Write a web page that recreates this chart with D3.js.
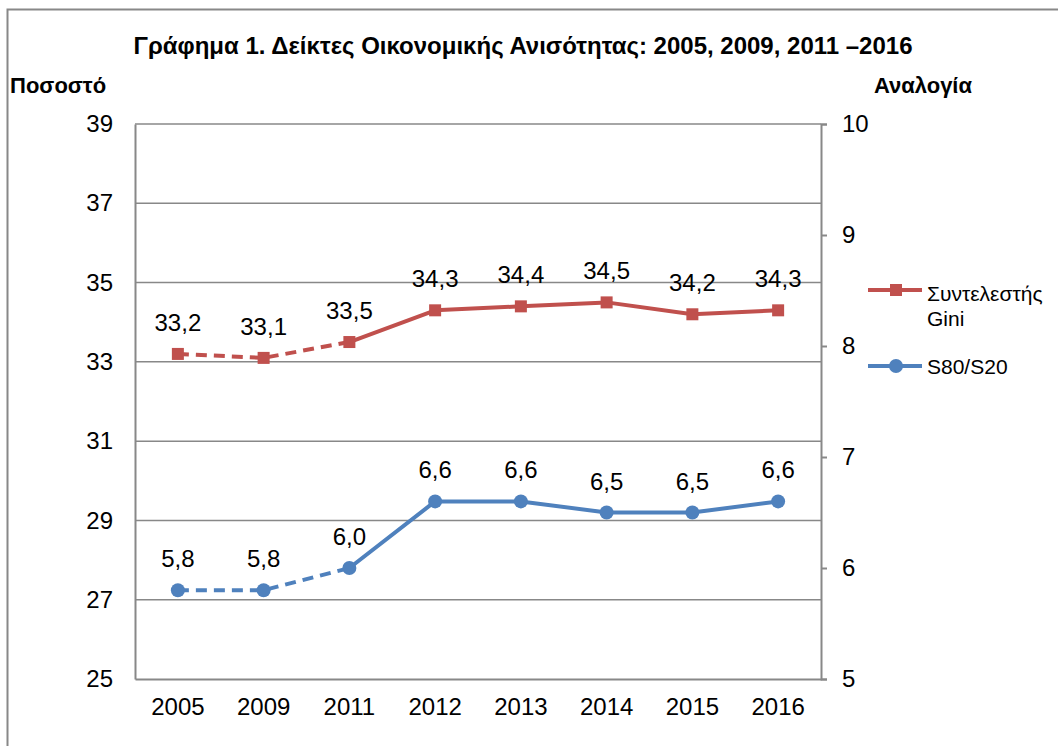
<!DOCTYPE html>
<html>
<head>
<meta charset="utf-8">
<script src="https://cdn.jsdelivr.net/npm/d3@7"></script>
<style>
  body { margin: 0; background: #fff; }
  text { font-family: "Liberation Sans", Arial, sans-serif; fill: #000; }
</style>
</head>
<body>
<div id="chart"></div>
<script>
// data
const years = ["2005", "2009", "2011", "2012", "2013", "2014", "2015", "2016"];
const gini = [33.2, 33.1, 33.5, 34.3, 34.4, 34.5, 34.2, 34.3];
const s80s20 = [5.8, 5.8, 6.0, 6.6, 6.6, 6.5, 6.5, 6.6];
const leftTicks = [25, 27, 29, 31, 33, 35, 37, 39];
const rightTicks = [5, 6, 7, 8, 9, 10];
const dashedUntil = 2; // index of 2011, lines are dashed up to here

const W = 1058, H = 746;
const margin = { left: 135, right: 237, top: 124, bottom: 67 };
const width = W - margin.left - margin.right;
const height = H - margin.top - margin.bottom;

const red = "#C0504D", blue = "#4F81BD", grey = "#888";
const fmt = v => d3.format(".1f")(v).replace(".", ",");
const fontSize = 24;

const svg = d3.select("#chart").append("svg")
  .attr("width", W).attr("height", H);

// outer frame (only top and left visible in the picture)
svg.append("rect")
  .attr("x", 7.5).attr("y", 9.5)
  .attr("width", W + 20).attr("height", H + 20)
  .attr("fill", "none").attr("stroke", grey).attr("stroke-width", 2);

svg.append("text")
  .attr("x", 523).attr("y", 54)
  .attr("text-anchor", "middle")
  .attr("font-size", 24).attr("font-weight", "bold")
  .text("Γράφημα 1. Δείκτες Οικονομικής Ανισότητας: 2005, 2009, 2011 –2016");

svg.append("text")
  .attr("x", 10).attr("y", 93)
  .attr("font-size", 22).attr("font-weight", "bold")
  .text("Ποσοστό");

svg.append("text")
  .attr("x", 972).attr("y", 93)
  .attr("text-anchor", "end")
  .attr("font-size", 22).attr("font-weight", "bold")
  .text("Αναλογία");

const g = svg.append("g")
  .attr("transform", "translate(" + [margin.left, margin.top] + ")");

const x = d3.scaleBand().domain(years).range([0, width]);
const yL = d3.scaleLinear().domain([25, 39]).range([height, 0]);
const yR = d3.scaleLinear().domain([5, 10]).range([height, 0]);
const cx = d => x(d) + x.bandwidth() / 2;

// gridlines
g.append("g")
  .selectAll("line")
  .data(leftTicks.slice(1))
  .join("line")
  .attr("x1", 0).attr("x2", width)
  .attr("y1", d => yL(d)).attr("y2", d => yL(d))
  .attr("stroke", grey).attr("stroke-width", 1.5);

function styleText(sel) {
  sel.selectAll("text")
    .attr("font-size", fontSize)
    .attr("fill", "#000")
    .style("font-family", "Liberation Sans, Arial, sans-serif");
}

// left axis
const yAxisL = d3.axisLeft(yL).tickValues(leftTicks).tickSize(0).tickPadding(22);
const gl = g.append("g").call(yAxisL);
gl.select(".domain").attr("stroke", grey).attr("stroke-width", 2);
styleText(gl);

// right axis
const yAxisR = d3.axisRight(yR).tickValues(rightTicks).tickFormat(d3.format("d"))
  .tickSize(6).tickPadding(15);
const gr = g.append("g").attr("transform", "translate(" + [width, 0] + ")").call(yAxisR);
gr.select(".domain").attr("stroke", grey).attr("stroke-width", 2);
gr.selectAll(".tick line").attr("stroke", grey).attr("stroke-width", 2);
styleText(gr);

// bottom axis
const xAxis = d3.axisBottom(x).tickSize(0).tickPadding(19);
const gx = g.append("g").attr("transform", "translate(" + [0, height] + ")").call(xAxis);
gx.select(".domain").attr("stroke", grey).attr("stroke-width", 2);
styleText(gx);

function drawSeries(values, yScale, color, marker) {
  const pts = values.map((v, i) => [cx(years[i]), yScale(v)]);
  const line = d3.line();
  g.append("path")
    .attr("d", line(pts.slice(0, dashedUntil + 1)))
    .attr("fill", "none").attr("stroke", color)
    .attr("stroke-width", 4).attr("stroke-dasharray", "11,7");
  g.append("path")
    .attr("d", line(pts.slice(dashedUntil)))
    .attr("fill", "none").attr("stroke", color)
    .attr("stroke-width", 4).attr("stroke-linejoin", "round");
  if (marker === "square") {
    g.append("g").selectAll("rect").data(pts).join("rect")
      .attr("x", d => d[0] - 6).attr("y", d => d[1] - 6)
      .attr("width", 12).attr("height", 12).attr("fill", color);
  } else {
    g.append("g").selectAll("circle").data(pts).join("circle")
      .attr("cx", d => d[0]).attr("cy", d => d[1])
      .attr("r", 7).attr("fill", color);
  }
  g.append("g").selectAll("text").data(values).join("text")
    .attr("x", (d, i) => cx(years[i]))
    .attr("y", d => yScale(d) - 23)
    .attr("text-anchor", "middle")
    .attr("font-size", fontSize)
    .text(d => fmt(d));
}

drawSeries(gini, yL, red, "square");
drawSeries(s80s20, yR, blue, "circle");

// legend
const leg = svg.append("g");
leg.append("line").attr("x1", 868).attr("x2", 922).attr("y1", 290).attr("y2", 290)
  .attr("stroke", red).attr("stroke-width", 4);
leg.append("rect").attr("x", 890).attr("y", 284).attr("width", 12).attr("height", 12).attr("fill", red);
leg.append("text").attr("x", 927).attr("y", 301).attr("font-size", 21).text("Συντελεστής");
leg.append("text").attr("x", 927).attr("y", 326).attr("font-size", 21).text("Gini");

leg.append("line").attr("x1", 868).attr("x2", 922).attr("y1", 366).attr("y2", 366)
  .attr("stroke", blue).attr("stroke-width", 4);
leg.append("circle").attr("cx", 896).attr("cy", 366).attr("r", 7).attr("fill", blue);
leg.append("text").attr("x", 927).attr("y", 374).attr("font-size", 21).text("S80/S20");
</script>
</body>
</html>
